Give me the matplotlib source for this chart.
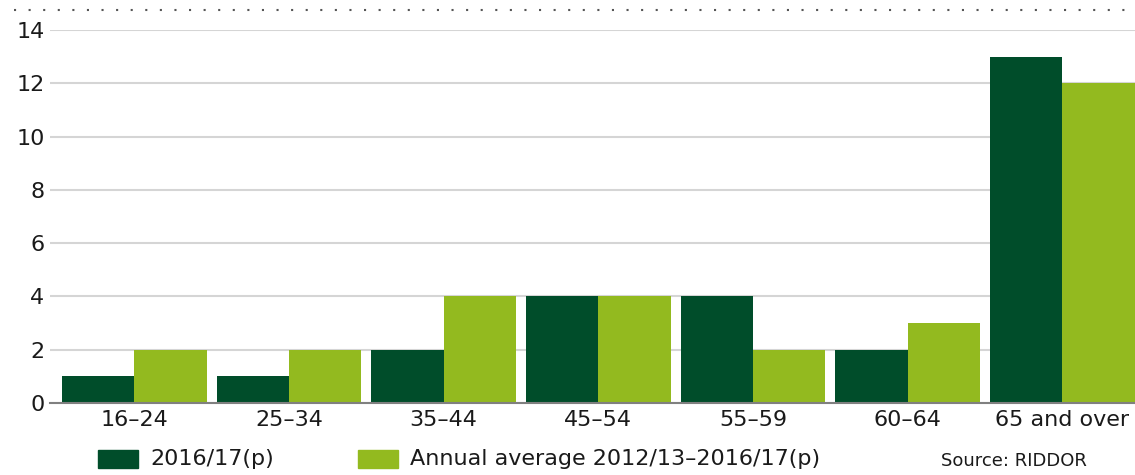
import matplotlib.pyplot as plt
import matplotlib.patches as mpatches
import numpy as np

categories = ["16\u201324", "25\u201334", "35\u201344", "45\u201354", "55\u201359", "60\u201364", "65 and over"]
current = [1, 1, 2, 4, 4, 2, 13]
average = [2, 2, 4, 4, 2, 3, 12]
yticks = [0, 2, 4, 6, 8, 10, 12, 14]

dark = "#004d2a"
light = "#93ba1f"

plt.rcParams['font.family'] = ['DejaVu Sans']

fig = plt.figure(figsize=(11.35, 4.75), dpi=100)
ax = fig.add_axes([50 / 1135, 1 - 403 / 475, 1085 / 1135, 373 / 475])

x = np.arange(len(categories))
w = 0.467
ax.bar(x - w / 2, current, width=w, color=dark, zorder=3)
ax.bar(x + w / 2, average, width=w, color=light, zorder=3)

ax.set_xlim(-0.545, 6.47)
ax.set_ylim(0, 14)
ax.set_yticks(yticks)
ax.set_xticks(x)
ax.set_xticklabels(categories)
ax.tick_params(axis='both', length=0, labelsize=16, colors="#1a1a1a")
ax.tick_params(axis='y', pad=4)
ax.tick_params(axis='x', pad=5)
ax.grid(axis='y', color="#d5d5d5", linewidth=1.5, zorder=0)
for s in ['top', 'right', 'left']:
    ax.spines[s].set_visible(False)
ax.spines['bottom'].set_color("#808080")
ax.spines['bottom'].set_linewidth(1.5)
ax.spines['bottom'].set_zorder(4)

# dotted rule at top
fig.add_artist(plt.Line2D([0.012, 1.0], [1 - 10 / 475, 1 - 10 / 475], color="#555555",
                          linestyle=(0, (1, 6)), linewidth=1.5))

# legend
fig.patches.append(mpatches.Rectangle((98 / 1135, 1 - 468 / 475), 40 / 1135, 18 / 475,
                                      color=dark, transform=fig.transFigure))
fig.text(150 / 1135, 1 - 459 / 475, "2016/17(p)", fontsize=16, va='center', color="#1a1a1a")
fig.patches.append(mpatches.Rectangle((358 / 1135, 1 - 468 / 475), 40 / 1135, 18 / 475,
                                      color=light, transform=fig.transFigure))
fig.text(410 / 1135, 1 - 459 / 475, "Annual average 2012/13\u20132016/17(p)", fontsize=16,
         va='center', color="#1a1a1a")
fig.text(941 / 1135, 1 - 461 / 475, "Source: RIDDOR", fontsize=13, va='center', color="#1a1a1a")

fig.savefig("out.png", dpi=100)
